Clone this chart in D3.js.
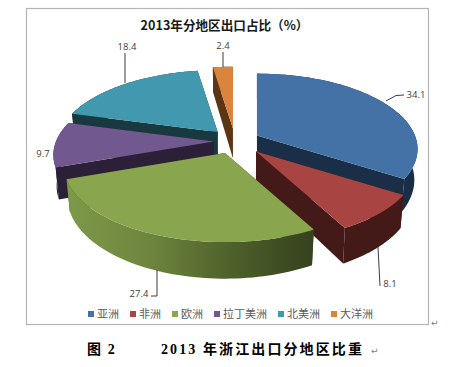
<!DOCTYPE html>
<html>
<head>
<meta charset="utf-8">
<script src="https://cdn.jsdelivr.net/npm/d3@7"></script>
<style>
  html, body { margin: 0; padding: 0; background: #fff; }
  svg { display: block; }
</style>
</head>
<body>
<div id="chart"></div>
<script>
// Data
const regions = ["亚洲", "非洲", "欧洲", "拉丁美洲", "北美洲", "大洋洲"];
const shares = [34.1, 8.1, 27.4, 9.7, 18.4, 2.4];
const titleText = "2013年分地区出口占比（%）";

const width = 450, height = 367;

// Colours for each slice: top face and dark walls
const topColors = ["#4472a6", "#a84543", "#89a54e", "#71588f", "#4198af", "#db843d"];
const wallColors = ["#1a2e48", "#431a18", "#39451f", "#2c2038", "#17393f", "#5c3514"];

// Pie geometry, the disc is tilted with a little perspective
const cx = 235, cy = 141;
const rx = 158, ry = 73;
const persp = 0.18;
const depth = 30;
const explode = [25, 31, 28, 21, 26, 27];
const drawOrder = [5, 4, 3, 0, 1, 2];

const svg = d3.select("#chart").append("svg")
    .attr("width", width)
    .attr("height", height);

// Green wall goes from light to dark
const grad = svg.append("defs").append("linearGradient")
    .attr("id", "greenWall")
    .attr("gradientUnits", "userSpaceOnUse")
    .attr("x1", 63).attr("x2", 312).attr("y1", 0).attr("y2", 0);
grad.append("stop").attr("offset", "0").attr("stop-color", "#7f9a4a");
grad.append("stop").attr("offset", "0.35").attr("stop-color", "#6d853e");
grad.append("stop").attr("offset", "0.7").attr("stop-color", "#4c5e29");
grad.append("stop").attr("offset", "1").attr("stop-color", "#36421e");

// Chart frame
svg.append("rect")
    .attr("x", 26.5).attr("y", 8.5)
    .attr("width", 402).attr("height", 316)
    .attr("fill", "#fff")
    .attr("stroke", "#b4b4b4")
    .attr("stroke-width", 1.2);

svg.append("text")
    .attr("x", 224.5).attr("y", 30)
    .attr("text-anchor", "middle")
    .style("font-family", "'Noto Sans CJK SC'")
    .style("font-weight", "bold")
    .style("font-size", "12.6px")
    .attr("fill", "#1a1a1a")
    .text(titleText);

const pie = d3.pie().sort(null).value(d => d)(shares);

// Angle (0 = up, clockwise) to page position relative to the slice tip
function project(a, isBottom) {
    const toViewer = -Math.cos(a);
    const s = 1 / (1 - persp * toViewer);
    const shrink = isBottom ? 0.98 : 1;
    return [
        rx * Math.sin(a) * s * shrink,
        ry * toViewer * s + (isBottom ? depth * s : 0)
    ];
}

function arcAngles(d) {
    const n = 60;
    const t = d3.scaleLinear().domain([0, n]).range([d.startAngle, d.endAngle]);
    return d3.range(n + 1).map(t);
}

const line = d3.line().curve(d3.curveLinearClosed);

drawOrder.forEach(i => {
    const d = pie[i];
    const mid = (d.startAngle + d.endAngle) / 2;
    const e = explode[i];
    const g = svg.append("g")
        .attr("transform", `translate(${cx + e * Math.sin(mid)},${cy - e * Math.cos(mid) * ry / rx})`);

    const tip = [0, 0], tipLow = [0, depth];
    const angles = arcAngles(d);

    // Cut walls first, then the outer wall, the top face covers what is left
    [d.startAngle, d.endAngle].forEach(a => {
        g.append("path")
            .attr("d", line([tip, project(a, false), project(a, true), tipLow]))
            .attr("fill", wallColors[i]);
    });
    const outer = angles.map(a => project(a, false))
        .concat(angles.slice().reverse().map(a => project(a, true)));
    g.append("path")
        .attr("d", line(outer))
        .attr("fill", i === 2 ? "url(#greenWall)" : wallColors[i]);
    // the gradient is in page space, so move it with the slice
    if (i === 2) grad.attr("gradientTransform", `translate(${-(cx + e * Math.sin(mid))},0)`);

    g.append("path")
        .attr("d", line([tip].concat(angles.map(a => project(a, false)))))
        .attr("fill", topColors[i]);
});

// Value labels with their leader lines
const labelSpots = [
    { x: 416, y: 98, leader: [[404, 95], [396, 95.5], [386, 101]] },
    { x: 390, y: 287, leader: [[380, 286], [378, 247]] },
    { x: 139, y: 297, leader: [[151, 296], [157, 296], [157, 270]] },
    { x: 43, y: 157, leader: [] },
    { x: 127, y: 50, leader: [[125, 53], [125, 83]] },
    { x: 223, y: 49, leader: [[223, 52], [223, 67]] }
];
const leaderLine = d3.line();
labelSpots.forEach((spot, i) => {
    if (spot.leader.length) {
        svg.append("path")
            .attr("d", leaderLine(spot.leader))
            .attr("fill", "none")
            .attr("stroke", "#3c3c3c")
            .attr("stroke-width", 1);
    }
    svg.append("text")
        .attr("x", spot.x).attr("y", spot.y)
        .attr("text-anchor", "middle")
        .style("font-family", "'Open Sans'")
        .style("font-size", "9.5px")
        .attr("fill", "#404040")
        .text(shares[i]);
});

// Legend, each item is as wide as its text
let legendX = 88;
regions.forEach((name, i) => {
    svg.append("rect")
        .attr("x", legendX).attr("y", 311)
        .attr("width", 6).attr("height", 6)
        .attr("fill", topColors[i]);
    svg.append("text")
        .attr("x", legendX + 9).attr("y", 318)
        .style("font-family", "'Noto Sans CJK SC'")
        .style("font-size", "11px")
        .attr("fill", "#595959")
        .text(name);
    legendX += 9 + name.length * 11 + 11;
});

// Caption under the chart, it belongs to the document around the chart
const caption = svg.append("g")
    .style("font-family", "'Liberation Serif', 'Noto Sans CJK SC'")
    .style("font-weight", "bold")
    .style("font-size", "14px")
    .attr("fill", "#000");
caption.append("text").attr("x", 87).attr("y", 354)
    .style("letter-spacing", "1.6px")
    .text("图 2");
caption.append("text").attr("x", 161).attr("y", 354)
    .style("letter-spacing", "2.1px")
    .text("2013 年浙江出口分地区比重");

// Word paragraph marks
[[431, 326], [371, 354]].forEach(p => {
    svg.append("text")
        .attr("x", p[0]).attr("y", p[1])
        .style("font-family", "'DejaVu Sans'")
        .style("font-size", "9px")
        .attr("fill", "#7a7a9a")
        .text("↵");
});
</script>
</body>
</html>
